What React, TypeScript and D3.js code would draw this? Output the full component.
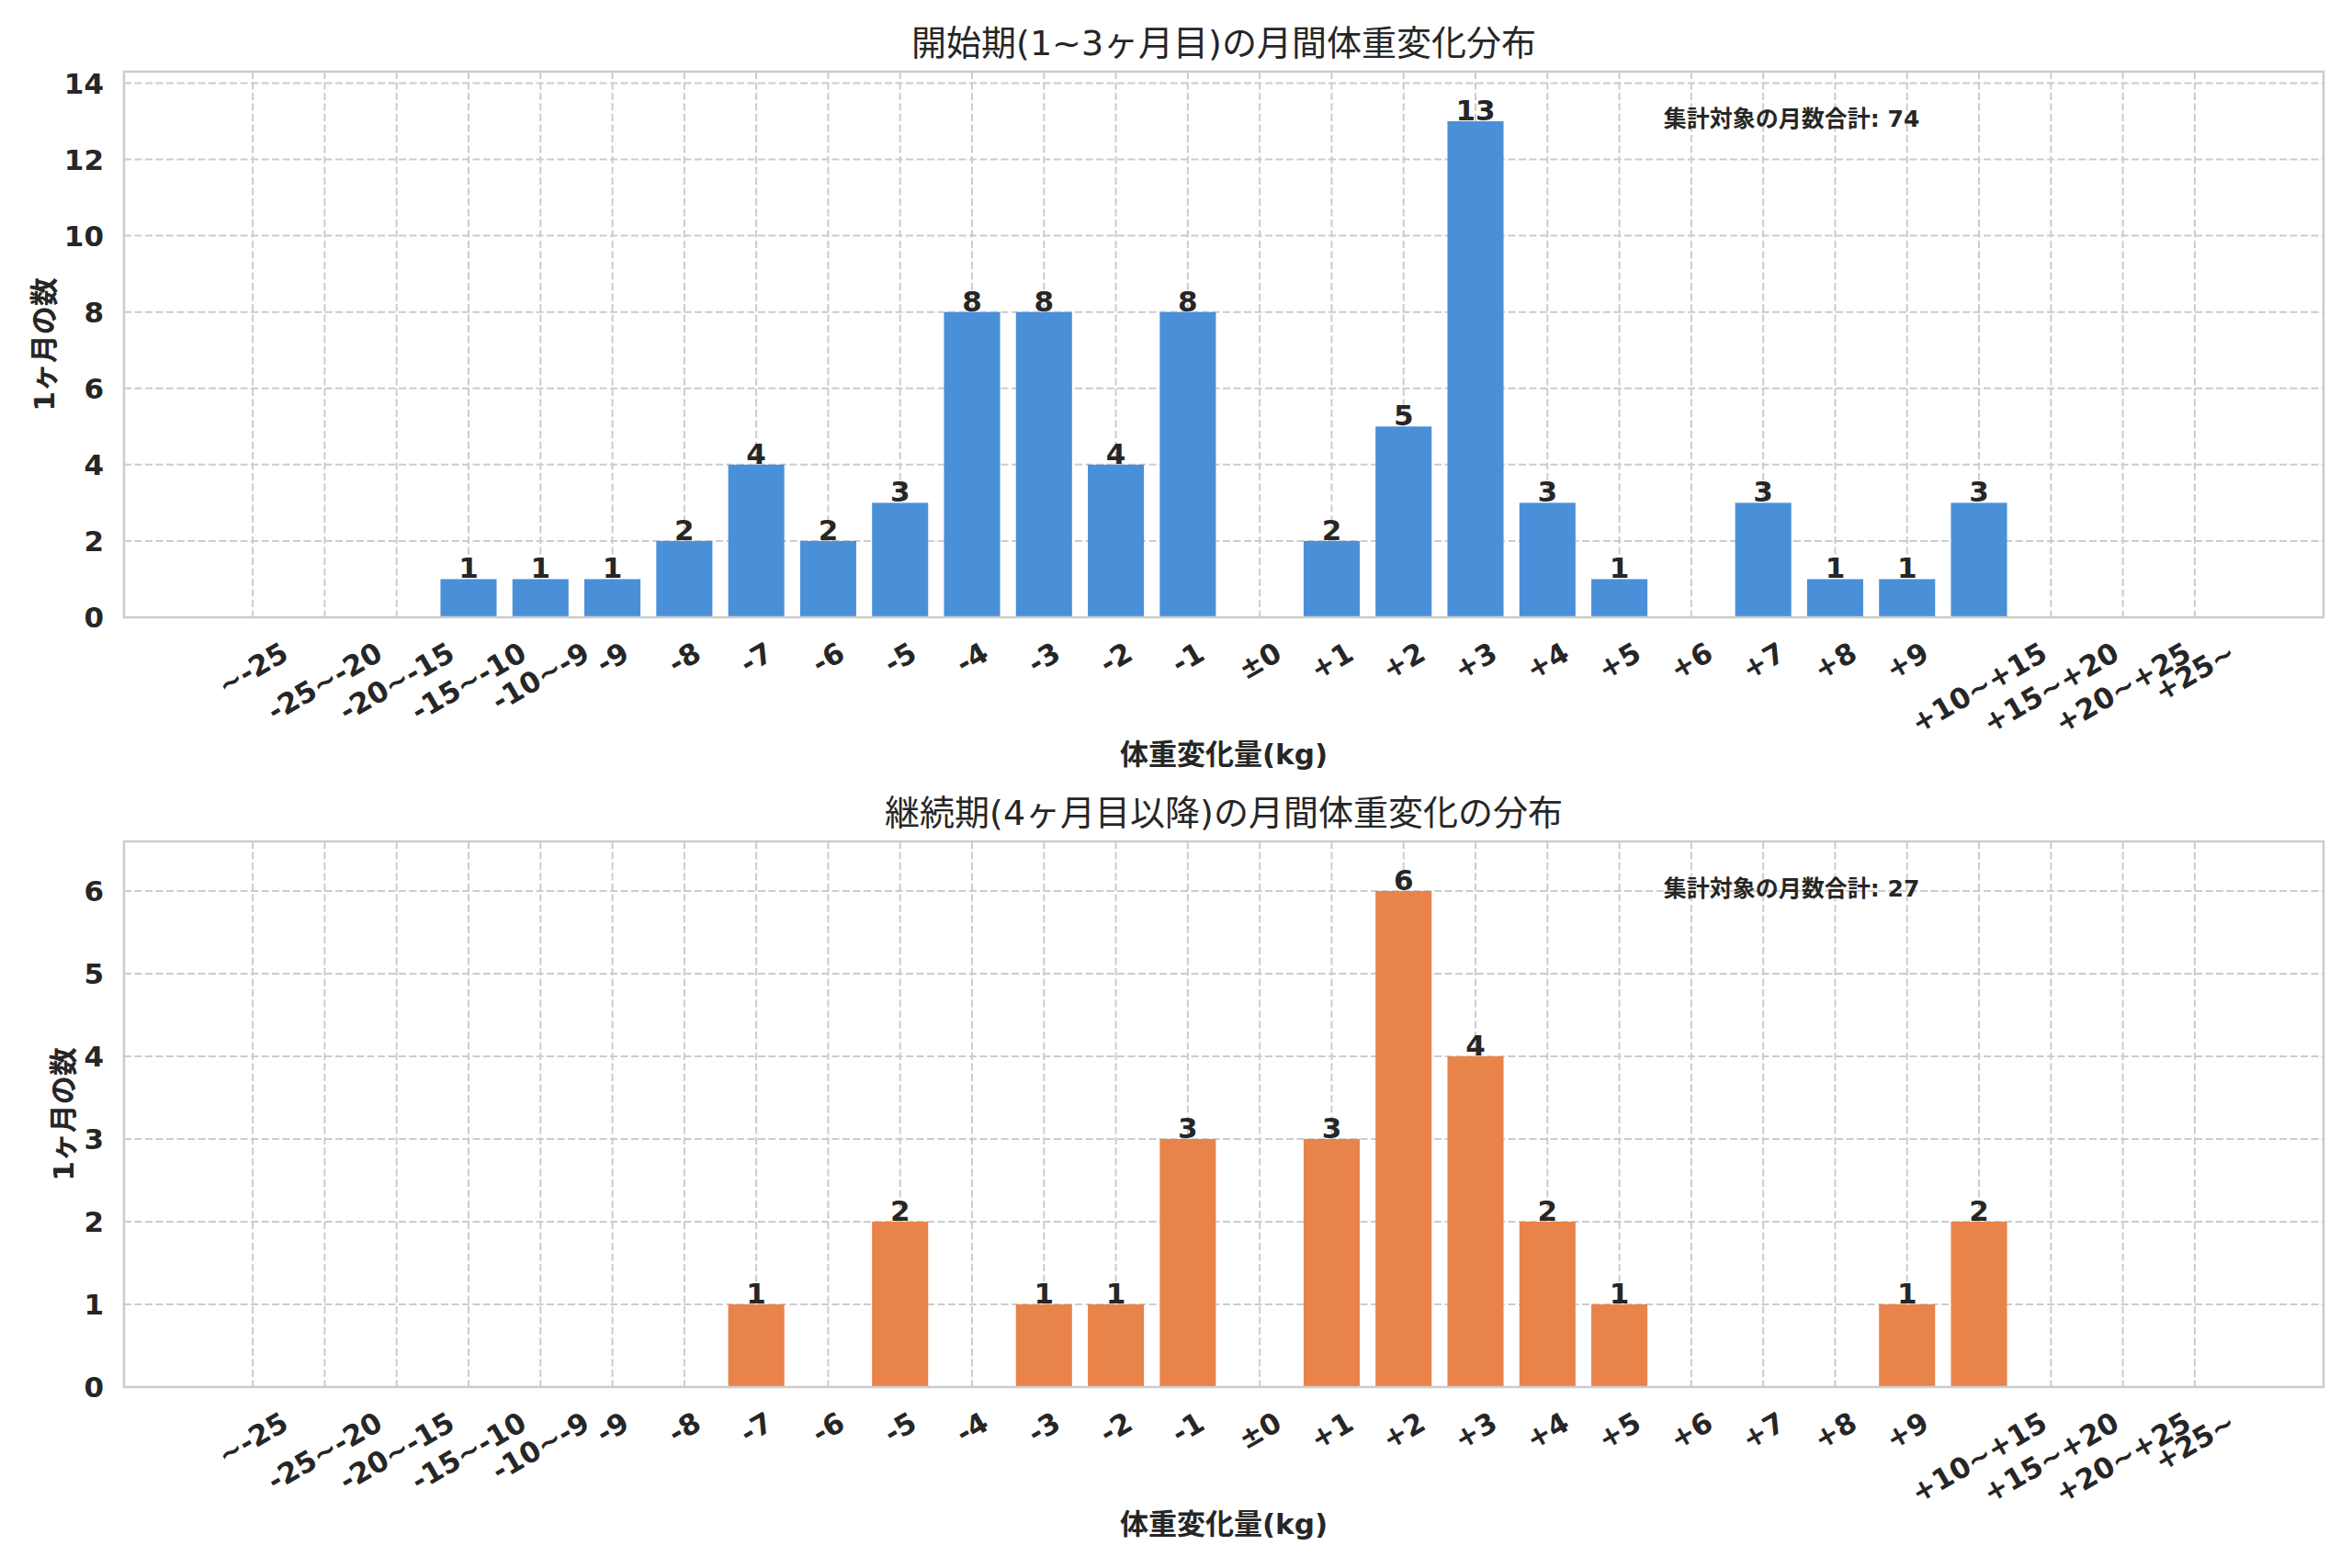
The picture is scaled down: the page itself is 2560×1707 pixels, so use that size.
import { useRef, useEffect } from 'react';
import * as d3 from 'd3';

const CATEGORIES = [
  '~-25', '-25~-20', '-20~-15', '-15~-10', '-10~-9',
  '-9', '-8', '-7', '-6', '-5', '-4', '-3', '-2', '-1',
  '±0',
  '+1', '+2', '+3', '+4', '+5', '+6', '+7', '+8', '+9',
  '+10~+15', '+15~+20', '+20~+25', '+25~',
];

const EARLY_COUNTS = [0, 0, 0, 1, 1, 1, 2, 4, 2, 3, 8, 8, 4, 8, 0, 2, 5, 13, 3, 1, 0, 3, 1, 1, 3, 0, 0, 0];
const LATE_COUNTS = [0, 0, 0, 0, 0, 0, 0, 1, 0, 2, 0, 1, 1, 3, 0, 3, 6, 4, 2, 1, 0, 0, 0, 1, 2, 0, 0, 0];

const EARLY_Y_TICKS = [0, 2, 4, 6, 8, 10, 12, 14];
const LATE_Y_TICKS = [0, 1, 2, 3, 4, 5, 6];

const EARLY_TITLE = '開始期(1~3ヶ月目)の月間体重変化分布';
const LATE_TITLE = '継続期(4ヶ月目以降)の月間体重変化の分布';
const X_LABEL = '体重変化量(kg)';
const Y_LABEL = '1ヶ月の数';
const TOTAL_LABEL = '集計対象の月数合計';

const W = 2560;
const H = 1707;
const LEFT = 135;
const RIGHT = 2529;
const PANELS = [
  { top: 78, bottom: 672, counts: EARLY_COUNTS, ticks: EARLY_Y_TICKS, title: EARLY_TITLE, color: '#4a90d9' },
  { top: 916, bottom: 1510, counts: LATE_COUNTS, ticks: LATE_Y_TICKS, title: LATE_TITLE, color: '#e8834a' },
];

const FONT = "'DejaVu Sans', 'Noto Sans CJK JP', sans-serif";
const TEXT = '#262626';
const GRID = '#cccccc';
const FS = 31;

export default function App() {
  const svgRef = useRef<SVGSVGElement>(null);

  useEffect(() => {
    document.body.style.margin = '0';
    const svg = svgRef.current;
    if (!svg) return;
    const root = d3.select(svg);
    root.selectAll('*').remove();

    const x = d3.scaleBand<string>()
      .domain(CATEGORIES)
      .range([LEFT, RIGHT])
      .paddingInner(0.22)
      .paddingOuter(1.4);
    const bw = x.bandwidth();
    const cx = (c: string) => x(c)! + bw / 2;

    PANELS.forEach(p => {
      const g = root.append('g');
      const yMax = d3.max(p.counts)! * 1.1;
      const y = d3.scaleLinear().domain([0, yMax]).range([p.bottom, p.top]);

      // grid
      p.ticks.forEach(t => {
        g.append('line').attr('x1', LEFT).attr('x2', RIGHT).attr('y1', y(t)).attr('y2', y(t))
          .attr('stroke', GRID).attr('stroke-width', 2).attr('stroke-dasharray', '8,3.5');
      });
      CATEGORIES.forEach(c => {
        g.append('line').attr('x1', cx(c)).attr('x2', cx(c)).attr('y1', p.top).attr('y2', p.bottom)
          .attr('stroke', GRID).attr('stroke-width', 2).attr('stroke-dasharray', '8,3.5');
      });

      // bars
      g.selectAll('.bar').data(p.counts).join('rect')
        .attr('x', (_, i) => x(CATEGORIES[i])!)
        .attr('y', d => y(d))
        .attr('width', bw)
        .attr('height', d => p.bottom - y(d))
        .attr('fill', p.color);

      // bar value labels
      p.counts.forEach((v, i) => {
        if (v <= 0) return;
        g.append('text').attr('x', cx(CATEGORIES[i])).attr('y', y(v) - 1)
          .attr('text-anchor', 'middle').attr('font-family', FONT).attr('font-size', FS)
          .attr('font-weight', 'bold').attr('fill', TEXT).text(v);
      });

      // spines
      g.append('rect').attr('x', LEFT).attr('y', p.top).attr('width', RIGHT - LEFT).attr('height', p.bottom - p.top)
        .attr('fill', 'none').attr('stroke', GRID).attr('stroke-width', 2.5);

      // y tick labels
      let maxW = 0;
      p.ticks.forEach(t => {
        const el = g.append('text').attr('x', 113).attr('y', y(t) + 0.365 * FS)
          .attr('text-anchor', 'end').attr('font-family', FONT).attr('font-size', FS)
          .attr('font-weight', 'bold').attr('fill', TEXT).text(t);
        maxW = Math.max(maxW, (el.node() as SVGTextElement).getComputedTextLength());
      });

      // x tick labels, rotated 30deg, bbox centred on tick
      const s = Math.sin(Math.PI / 6);
      const c30 = Math.cos(Math.PI / 6);
      const lh = 1.164 * FS;
      CATEGORIES.forEach(c => {
        const el = g.append('text').attr('text-anchor', 'middle').attr('font-family', FONT)
          .attr('font-size', FS).attr('font-weight', 'bold').attr('fill', TEXT).text(c);
        const w = (el.node() as SVGTextElement).getComputedTextLength();
        const bh = w * s + lh * c30;
        const px = cx(c);
        const py = p.bottom + 20 + bh / 2;
        el.attr('x', px).attr('y', py + 0.346 * FS).attr('transform', `rotate(-30,${px},${py})`);
      });

      // axis labels
      g.append('text').attr('x', (LEFT + RIGHT) / 2).attr('y', p.bottom + 160)
        .attr('text-anchor', 'middle').attr('font-family', FONT).attr('font-size', FS)
        .attr('font-weight', 'bold').attr('fill', TEXT).text(X_LABEL);
      const ly = (p.top + p.bottom) / 2;
      const lx = 113 - maxW - 22;
      g.append('text').attr('x', lx).attr('y', ly).attr('text-anchor', 'middle')
        .attr('dominant-baseline', 'central').attr('transform', `rotate(-90,${lx},${ly})`)
        .attr('font-family', FONT).attr('font-size', FS).attr('font-weight', 'bold').attr('fill', TEXT)
        .text(Y_LABEL);

      // title
      g.append('text').attr('x', (LEFT + RIGHT) / 2).attr('y', p.top - 18)
        .attr('text-anchor', 'middle').attr('font-family', FONT).attr('font-size', 38)
        .attr('fill', TEXT).text(p.title);

      // total annotation
      g.append('text').attr('x', LEFT + 0.70 * (RIGHT - LEFT)).attr('y', p.top + 60)
        .attr('font-family', FONT).attr('font-size', 25).attr('font-weight', 'bold').attr('fill', TEXT)
        .text(`${TOTAL_LABEL}: ${d3.sum(p.counts)}`);
    });
  }, []);

  return (
    <svg ref={svgRef} width={W} height={H} viewBox={`0 0 ${W} ${H}`}
      style={{ display: 'block', background: '#ffffff' }} />
  );
}
